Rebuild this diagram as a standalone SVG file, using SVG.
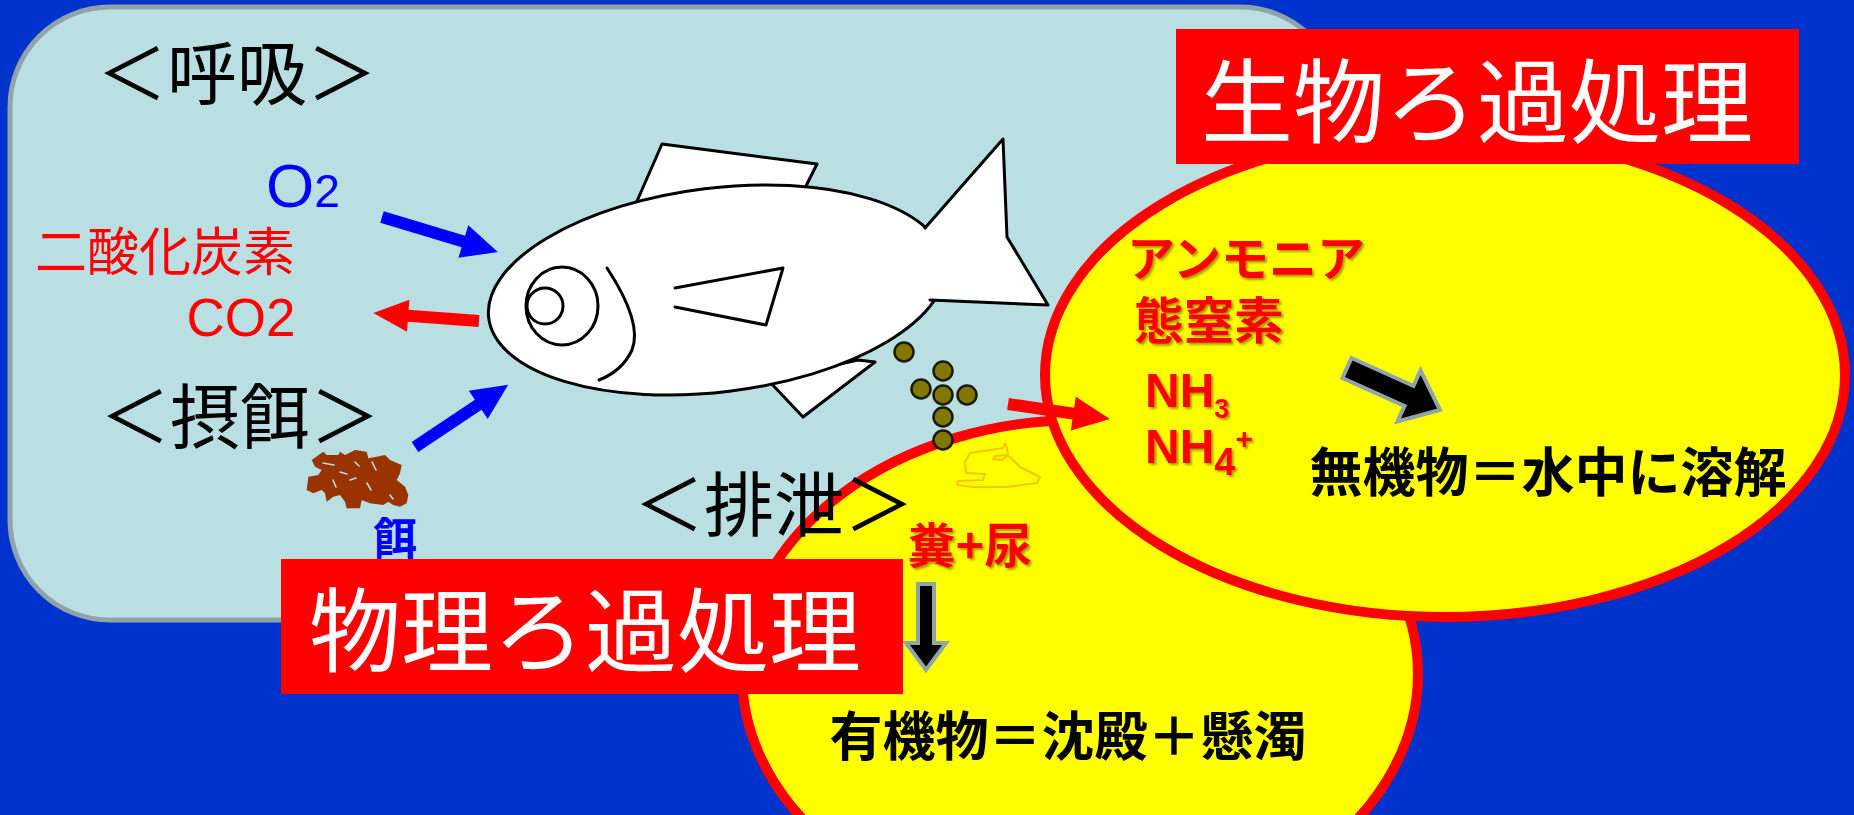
<svg xmlns="http://www.w3.org/2000/svg" width="1854" height="815" viewBox="0 0 1854 815">
  <defs>
    <style>
      .jp { font-family: "Noto Sans CJK JP", "Noto Sans CJK SC", sans-serif; }
      .lat { font-family: "Liberation Sans", Arial, sans-serif; }
      .head { font-size: 70px; fill: #000; font-weight: 400; }
      .title { font-size: 92px; fill: #fff; font-weight: 400; }
      .boldred { fill: #ff0000; font-weight: 700; }
      .boldblk { fill: #000; font-weight: 700; font-size: 53px; }
      .fish { fill: #fff; stroke: #000; stroke-width: 3; stroke-linejoin: round; }
      .fishline { fill: none; stroke: #000; stroke-width: 3; stroke-linecap: round; stroke-linejoin: round; }
      .pellet { fill: #807800; stroke: #1a1a00; stroke-width: 2.5; }
      .food { fill: #993300; }
      .crack { fill: none; stroke: #b9dfe3; stroke-width: 1.6; stroke-linecap: round; }
      .filter-box { fill: #ff0000; }
      .ring { fill: #ffff00; stroke: #ff0000; stroke-width: 10; }
      .flow { fill: #000; stroke: #8fa5a9; stroke-width: 4; stroke-linejoin: miter; }
    </style>
    <filter id="shadow" x="-10%" y="-10%" width="130%" height="140%">
      <feDropShadow dx="2" dy="2" stdDeviation="1" flood-color="#5a4a00" flood-opacity="0.55"/>
    </filter>
  </defs>

  <!-- backdrop -->
  <rect x="0" y="0" width="1854" height="815" fill="#0033cc"/>

  <!-- aquarium panel -->
  <g id="tank">
    <rect x="10" y="7" width="1330" height="613" rx="100" ry="100" fill="#b9dfe3" stroke="#8fa3a8" stroke-width="5"/>
  </g>

  <!-- respiration -->
  <g id="respiration">
    <text class="jp head" x="237" y="100" text-anchor="middle">＜呼吸＞</text>
    <text class="lat" x="266" y="207" fill="#0000ff"><tspan font-size="62">O</tspan><tspan font-size="46">2</tspan></text>
    <text class="jp" x="165" y="271" text-anchor="middle" font-size="52" fill="#ff0000">二酸化炭素</text>
    <text class="lat" x="241" y="336" text-anchor="middle" font-size="53" fill="#ff0000">CO2</text>
  </g>

  <!-- feeding -->
  <g id="feeding">
    <text class="jp head" x="240" y="443" text-anchor="middle">＜摂餌＞</text>
    <g id="food-pellets">
      <polygon class="food" points="311.7,460 323.3,451.7 326.7,455 338.3,455 340,451.7 345,455 355,450 366.7,451.7 368.3,458.3 376.7,456.7 385,455 390,460 401.7,465 400,473.3 396.7,480 405,486.7 408.3,495 406.7,503.3 400,506.7 393.3,505 388.3,501.7 383.3,505 370,503.3 361.7,500 360,508.3 346.7,508.3 345,501.7 340,495 333.3,496.7 326.7,501.7 325,493.3 321.7,490 313.3,493.3 306.7,490 308.3,476.7 318.3,475 321.7,470 315,466.7"/>
      <path class="crack" d="M323,463 L334,465 M340,472 L347,474 M350,480 L356,478 M367,483 L371,490 M390,495 L393,499 M333,480 L336,487 M372,462 L376,470 M355,462 L359,466"/>
    </g>
    <text class="jp" x="395" y="555" text-anchor="middle" font-size="44" font-weight="700" fill="#0000ff">餌</text>
  </g>

  <!-- fish -->
  <g id="fish">
    <polygon class="fish" points="634,208 662,144 817,164 803,192"/>
    <polygon class="fish" points="768,380 803,417 875,362 858,360"/>
    <ellipse class="fish" cx="717" cy="290" rx="230" ry="102" transform="rotate(-7 717 290)"/>
    <polygon points="925,228 1003,139 1007,237 1048,305 930,300 915,265" fill="#fff"/>
    <polyline class="fishline" points="925,228 1003,139 1007,237 1048,305 930,300"/>
    <ellipse class="fishline" cx="562" cy="306" rx="36" ry="39"/>
    <circle class="fishline" cx="545" cy="306" r="18"/>
    <path class="fishline" d="M607,268 C628,300 640,330 632,350 C625,365 612,375 599,380"/>
    <polyline class="fishline" points="675,288 783,268 766,325 675,307"/>
  </g>

  <!-- filter zones -->
  <g id="physical-zone">
    <ellipse class="ring" cx="1080" cy="674" rx="338" ry="254"/>
  </g>
  <g id="biological-zone">
    <ellipse class="ring" cx="1445" cy="375" rx="400" ry="242"/>
  </g>

  <!-- connectors -->
  <g id="connectors">
    <path fill="#0000ff" d="M0,-6 L85,-6 L85,-17 L121,0 L85,17 L85,6 L0,6 Z" transform="translate(382,217) rotate(16.8)"/>
    <path fill="#ff0000" d="M0,-6 L71,-6 L71,-16 L106,0 L71,16 L71,6 L0,6 Z" transform="translate(479,321) rotate(184.3)"/>
    <path fill="#0000ff" d="M0,-6 L76,-6 L76,-17 L112,0 L76,17 L76,6 L0,6 Z" transform="translate(415,447) rotate(-33.7)"/>
    <path fill="#ff0000" d="M0,-6 L66,-6 L66,-17 L103,0 L66,17 L66,6 L0,6 Z" transform="translate(1008,404) rotate(8.4)"/>
    <path class="flow" d="M0,-11 L68,-11 L68,-28 L102,0 L68,28 L68,11 L0,11 Z" transform="translate(1347,368) rotate(24.3)"/>
    <path class="flow" d="M0,-8 L59,-8 L59,-20 L86,0 L59,20 L59,8 L0,8 Z" transform="translate(926,584) rotate(90)"/>
  </g>

  <!-- excretion -->
  <g id="excretion">
    <circle class="pellet" cx="904" cy="352" r="9.5"/>
    <circle class="pellet" cx="943" cy="371" r="9.5"/>
    <circle class="pellet" cx="921" cy="389" r="9.5"/>
    <circle class="pellet" cx="943" cy="395" r="9.5"/>
    <circle class="pellet" cx="967" cy="395" r="9.5"/>
    <circle class="pellet" cx="943" cy="417" r="9.5"/>
    <circle class="pellet" cx="943" cy="440" r="9.5"/>
    <path fill="none" stroke="#f7c400" stroke-width="2" stroke-linejoin="round" stroke-linecap="round"
          d="M1005,443 L1003,448 L990,450 L970,453 L965,462 L966,473 L985,474 L983,480 L958,481 L957,485 L973,487 L1007,487 L1037,483 L1040,477 L1020,467 L1010,457 L1007,455 L995,456 L993,459 L1002,460 L1008,455 L1007,448 Z"/>
    <text class="jp head" x="774" y="531" text-anchor="middle">＜排泄＞</text>
    <text class="jp boldred" x="970" y="563" text-anchor="middle" font-size="48" filter="url(#shadow)">糞+尿</text>
  </g>

  <!-- biological filtration -->
  <g id="biological-label">
    <rect class="filter-box" x="1176" y="29" width="623" height="135"/>
    <text class="jp title" x="1477" y="136" text-anchor="middle">生物ろ過処理</text>
  </g>
  <g id="ammonia">
    <text class="jp boldred" x="1246" y="276" text-anchor="middle" font-size="48" filter="url(#shadow)">アンモニア</text>
    <text class="jp boldred" x="1209" y="339" text-anchor="middle" font-size="50" filter="url(#shadow)">態窒素</text>
    <text class="lat boldred" x="1145" y="407" font-size="48" filter="url(#shadow)">NH<tspan font-size="27" dy="11">3</tspan></text>
    <text class="lat boldred" x="1145" y="463" font-size="48" filter="url(#shadow)">NH<tspan font-size="38" dy="12">4</tspan><tspan font-size="30" dy="-26">+</tspan></text>
  </g>
  <g id="inorganic">
    <text class="jp boldblk" x="1548" y="492" text-anchor="middle">無機物＝水中に溶解</text>
  </g>

  <!-- physical filtration -->
  <g id="physical-label">
    <rect class="filter-box" x="281" y="559" width="622" height="135"/>
    <text class="jp title" x="585" y="665" text-anchor="middle">物理ろ過処理</text>
  </g>
  <g id="organic">
    <text class="jp boldblk" x="1068" y="756" text-anchor="middle">有機物＝沈殿＋懸濁</text>
  </g>
</svg>
